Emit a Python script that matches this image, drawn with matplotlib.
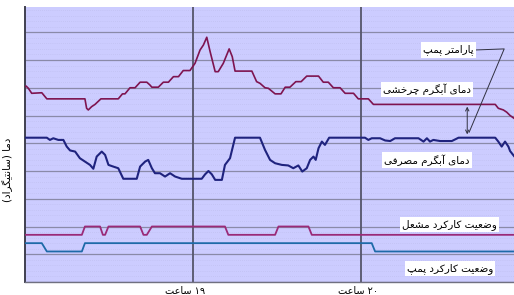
import re

import matplotlib
matplotlib.use("Agg")
import matplotlib.pyplot as plt
from matplotlib.ticker import MultipleLocator

# ─── Data (x = minutes after 18:00, y = temperature-like units) ───────────────

circ_t = [0, 0.4, 1.2, 2.4, 6.0, 7.8, 21.4, 22.0, 22.6, 23.8, 25.0, 27.1, 33.3,
          34.8, 35.7, 37.5, 39.3, 41.1, 43.5, 44.6, 45.3, 47.6, 49.4, 51.2, 53.0,
          54.8, 56.5, 58.9, 60.7, 62.5, 63.7, 64.9, 66.1, 67.9, 69.0, 70.8, 72.9,
          74.0, 75.0, 81.0, 82.7, 83.9, 85.7, 86.9, 89.3, 91.4, 92.9, 94.6, 96.7,
          98.6, 100.6, 104.8, 106.5, 108.3, 110.1, 112.5, 114.3, 117.3, 119.0,
          122.6, 124.4, 167.9, 169.0, 170.8, 172.0, 173.2, 174.6]
circ_temp = [35.2, 35.3, 34.9, 34.0, 34.1, 33.0, 33.0, 31.3, 31.0, 31.6, 32.0, 33.0,
             33.0, 33.9, 33.9, 35.0, 35.0, 36.0, 36.0, 35.5, 35.1, 35.1, 36.0, 36.0,
             37.0, 37.0, 38.1, 38.1, 39.4, 41.8, 42.7, 44.1, 41.5, 37.9, 37.9, 39.4,
             42.0, 40.6, 38.0, 38.0, 36.1, 35.8, 35.0, 34.9, 33.9, 33.9, 35.1, 35.1,
             36.1, 36.1, 37.1, 37.1, 36.0, 36.0, 35.0, 35.0, 34.0, 34.0, 33.0, 33.0,
             32.0, 32.0, 31.3, 31.0, 30.6, 30.0, 29.5]

dhw_t = [0, 7.8, 8.9, 10.1, 11.9, 13.7, 14.9, 16.1, 17.9, 19.6, 21.4, 23.2, 24.4,
         25.6, 27.4, 28.6, 29.8, 31.5, 33.3, 35.1, 39.9, 41.1, 42.9, 44.0, 45.3,
         46.4, 48.2, 50.0, 51.8, 53.6, 56.0, 63.1, 64.3, 65.5, 66.7, 67.9, 70.3,
         71.4, 73.2, 75.0, 83.9, 85.7, 87.5, 89.3, 91.7, 94.0, 95.8, 97.6, 99.0,
         100.6, 101.8, 103.0, 103.8, 104.8, 106.0, 107.1, 108.6, 121.4, 122.6,
         123.8, 126.8, 128.6, 130.4, 132.1, 140.5, 142.3, 143.5, 144.6, 145.8,
         148.2, 152.4, 154.8, 167.9, 169.0, 170.2, 171.4, 172.6, 173.2, 174.6]
dhw_temp = [26.0, 26.0, 25.6, 25.9, 25.6, 25.6, 24.4, 23.7, 23.5, 22.3, 21.7, 21.1,
            20.4, 22.6, 23.5, 22.9, 21.1, 20.8, 20.5, 18.6, 18.6, 20.8, 21.7, 22.0,
            20.5, 19.6, 19.6, 19.0, 19.6, 19.0, 18.6, 18.6, 19.4, 20.0, 19.4, 18.4,
            18.4, 21.1, 22.3, 26.0, 26.0, 23.8, 22.0, 21.4, 21.1, 21.0, 20.5, 21.0,
            19.9, 20.5, 22.0, 22.6, 22.0, 24.1, 25.3, 24.7, 26.0, 26.0, 25.6, 25.9,
            25.9, 25.5, 25.4, 25.9, 25.9, 25.3, 25.9, 25.3, 25.6, 25.4, 25.4, 26.0,
            26.0, 25.3, 24.4, 25.3, 24.4, 23.6, 22.7]

burner_t = [0, 20.3, 21.4, 26.8, 27.8, 28.6, 29.8, 41.1, 42.3, 43.5, 45.3, 71.4,
            72.6, 89.3, 90.5, 101.2, 102.4, 174.6]
burner_state = [8.5, 8.5, 10, 10, 8.5, 8.5, 10, 10, 8.5, 8.5, 10, 10,
                8.5, 8.5, 10, 10, 8.5, 8.5]

pump_t = [0, 6.0, 7.8, 20.3, 21.4, 123.8, 125.0, 174.6]
pump_state = [7, 7, 5.5, 5.5, 7, 7, 5.5, 5.5]

hour_marks = [60, 120]
hour_labels = ["۱۹ ساعت", "۲۰ ساعت"]

# ─── Persian shaping (matplotlib has no bidi / joining) ──────────────────────

FORMS = {
    "ا": "\ufe8d\ufe8e", "آ": "\ufe81\ufe82", "د": "\ufea9\ufeaa",
    "ر": "\ufead\ufeae", "و": "\ufeed\ufeee",
    "ب": "\ufe8f\ufe90\ufe91\ufe92", "پ": "\ufb56\ufb57\ufb58\ufb59",
    "ت": "\ufe95\ufe96\ufe97\ufe98", "چ": "\ufb7a\ufb7b\ufb7c\ufb7d",
    "خ": "\ufea5\ufea6\ufea7\ufea8", "س": "\ufeb1\ufeb2\ufeb3\ufeb4",
    "ش": "\ufeb5\ufeb6\ufeb7\ufeb8", "ص": "\ufeb9\ufeba\ufebb\ufebc",
    "ض": "\ufebd\ufebe\ufebf\ufec0", "ع": "\ufec9\ufeca\ufecb\ufecc",
    "ف": "\ufed1\ufed2\ufed3\ufed4", "ک": "\ufb8e\ufb8f\ufb90\ufb91",
    "گ": "\ufb92\ufb93\ufb94\ufb95", "ل": "\ufedd\ufede\ufedf\ufee0",
    "م": "\ufee1\ufee2\ufee3\ufee4", "ن": "\ufee5\ufee6\ufee7\ufee8",
    "ی": "\ufbfc\ufbfd\ufbfe\ufbff",
}


def fa(text):
    out = []
    for i, ch in enumerate(text):
        f = FORMS.get(ch)
        if f is None:
            out.append(ch)
            continue
        prev = text[i - 1] if i > 0 else ""
        nxt = text[i + 1] if i + 1 < len(text) else ""
        jp = prev in FORMS and len(FORMS[prev]) == 4
        jn = len(f) == 4 and nxt in FORMS
        out.append(f[3] if jp and jn else f[1] if jp else f[2] if jn else f[0])
    vis = "".join(out)[::-1]
    vis = re.sub("[۰-۹0-9]+", lambda m: m.group(0)[::-1], vis)
    return vis.translate(str.maketrans("()", ")("))


# ─── Plot ─────────────────────────────────────────────────────────────────────

fig = plt.figure(figsize=(5.14, 2.95), dpi=100)
ax = fig.add_axes([25 / 514, 13 / 295, 489 / 514, 275 / 295])
ax.set_facecolor("#CCCCFF")
ax.set_xlim(0, 174.6)
ax.set_ylim(0, 49.55)

ax.yaxis.set_major_locator(MultipleLocator(5))
ax.yaxis.set_minor_locator(MultipleLocator(1))
ax.xaxis.set_major_locator(MultipleLocator(1000))
ax.grid(which="major", axis="y", color="#8A8AA8", lw=0.9)
ax.grid(which="minor", axis="y", color="#BCBCEC", lw=0.5, ls=(0, (1, 2)))
ax.set_axisbelow(True)
ax.tick_params(which="both", length=0, labelleft=False, labelbottom=False)
for s in ["top", "right"]:
    ax.spines[s].set_visible(False)
ax.spines["left"].set_color("#404050")
ax.spines["left"].set_linewidth(1.4)
ax.spines["bottom"].set_color("#707080")
ax.spines["bottom"].set_linewidth(1.0)

for h in hour_marks:
    ax.axvline(h, color="#55556A", lw=1.3, zorder=1)

ax.plot(circ_t, circ_temp, color="#7E1450", lw=1.2, zorder=3)
ax.plot(dhw_t, dhw_temp, color="#1F237E", lw=1.5, zorder=3)
ax.plot(burner_t, burner_state, color="#9A2A78", lw=1.3, zorder=3)
ax.plot(pump_t, pump_state, color="#1E6AA8", lw=1.3, zorder=3)

box = dict(facecolor="white", edgecolor="none", pad=1.5)
fs = 7.5
ax.text(151.1, 41.8, fa("پارامتر پمپ"), fontsize=fs, ha="center", va="center", bbox=box, zorder=5)
ax.text(143.6, 34.7, fa("دمای آبگرم چرخشی"), fontsize=fs, ha="center", va="center", bbox=box, zorder=5)
ax.text(143.6, 22.0, fa("دمای آبگرم مصرفی"), fontsize=fs, ha="center", va="center", bbox=box, zorder=5)
ax.text(151.4, 10.3, fa("وضعیت کارکرد مشعل"), fontsize=fs, ha="center", va="center", bbox=box, zorder=5)
ax.text(151.8, 2.4, fa("وضعیت کارکرد پمپ"), fontsize=fs, ha="center", va="center", bbox=box, zorder=5)

# pump parameter pointer
ax.plot([160.4, 171.1, 158.6], [41.8, 42.0, 27.0], color="#303040", lw=0.7, zorder=4)
ax.annotate("", xy=(157.9, 26.1), xytext=(157.9, 32.1),
            arrowprops=dict(arrowstyle="<->", color="#303040", lw=0.7, mutation_scale=6),
            zorder=4)

for x, lab in zip([57.1, 118.9], hour_labels):
    ax.text(x, -0.033, fa(lab), fontsize=7, ha="center", va="center",
            transform=ax.get_xaxis_transform())

fig.text(8 / 514, (295 - 170) / 295, fa("دما (سانتیگراد)"), fontsize=7.5,
         rotation=90, ha="center", va="center")

fig.savefig("out.png", dpi=100)
